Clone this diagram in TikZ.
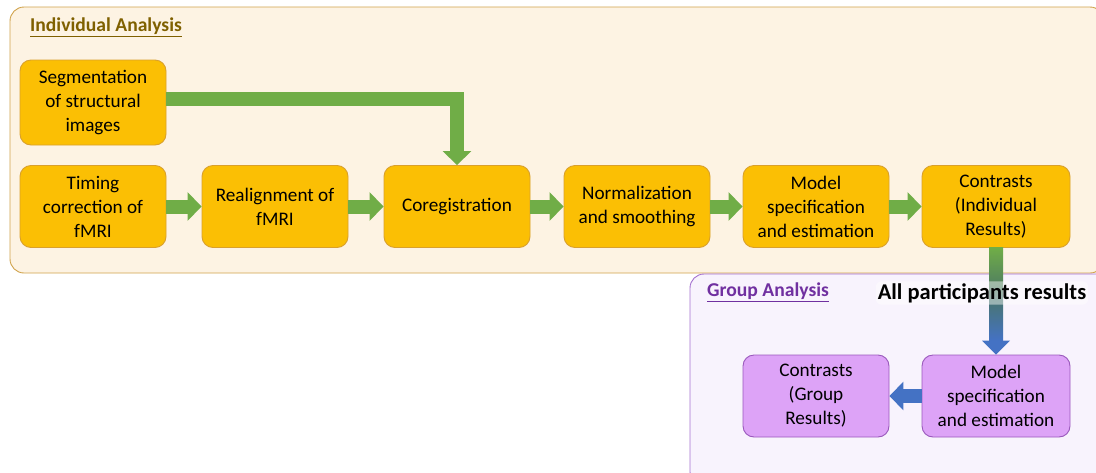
\documentclass[tikz,border=0pt]{standalone}
\usepackage{fontspec}
\setmainfont{Carlito}
\usetikzlibrary{arrows.meta,calc,positioning}
\definecolor{indfill}{HTML}{FDF3E3}
\definecolor{indline}{HTML}{D0A24A}
\definecolor{grpfill}{HTML}{F8F3FD}
\definecolor{grpline}{HTML}{A470D0}
\definecolor{boxfill}{HTML}{FBBF04}
\definecolor{boxline}{HTML}{D9A02C}
\definecolor{pboxfill}{HTML}{DDA3F7}
\definecolor{pboxline}{HTML}{9A58BC}
\definecolor{agreen}{HTML}{70AD47}
\definecolor{ablue}{HTML}{4472C4}
\definecolor{indtitle}{HTML}{7F6000}
\definecolor{grptitle}{HTML}{7030A0}
\tikzset{
  panel/.style={rounded corners=14pt, line width=0.9pt},
  stepbox/.style={draw=boxline, fill=boxfill, line width=0.9pt, rounded corners=11pt,
    minimum width=146pt, minimum height=82pt, align=center, inner sep=2pt,
    font=\fontsize{19.2}{24}\selectfont},
  gbox/.style={stepbox, draw=pboxline, fill=pboxfill},
  flow/.style={line width=14pt, -{Triangle[width=28pt,length=14pt]}},
  title/.style={font=\fontsize{19.6}{22}\selectfont\bfseries, anchor=west, inner sep=0pt}
}
\begin{document}
\begin{tikzpicture}[x=1pt,y=-1pt]
\useasboundingbox (0,0) rectangle (1096,472);
\clip (0,0) rectangle (1096,472);
% panels
\draw[panel, draw=indline, fill=indfill] (10,7) rectangle (1104,273);
\draw[panel, draw=grpline, fill=grpfill] (690,274) rectangle (1110,486);
\node[title, text=indtitle] (indt) at (30,27) {\underline{Individual Analysis}};
\node[title, text=grptitle] (grpt) at (707,292) {\underline{Group Analysis}};
% boxes
\node[stepbox, minimum height=85pt] (seg) at (93,102.5) {Segmentation\\of structural\\images};
\node[stepbox] (tim) at (93,206.5) {Timing\\correction of\\fMRI};
\node[stepbox] (rea) at (275,206.5) {Realignment of\\fMRI};
\node[stepbox] (cor) at (457,206.5) {Coregistration};
\node[stepbox] (nor) at (637,206.5) {Normalization\\and smoothing};
\node[stepbox] (mod) at (816,206.5) {Model\\specification\\and estimation};
\node[stepbox, minimum width=148pt] (con) at (996,206.5) {Contrasts\\(Individual\\Results)};
\node[gbox] (gcon) at (816,396) {Contrasts\\(Group\\Results)};
\node[gbox, minimum width=148pt] (gmod) at (996,396) {Model\\specification\\and estimation};
% arrows
\draw[flow, agreen] (tim) -- (rea);
\draw[flow, agreen] (rea) -- (cor);
\draw[flow, agreen] (cor) -- (nor);
\draw[flow, agreen] (nor) -- (mod);
\draw[flow, agreen] (mod) -- (con);
\coordinate (bend) at ($(cor.north)+(0,-66)$);
\draw[flow, agreen] (seg.east |- bend) -- (bend) -- (cor.north);
\draw[flow, ablue] (gmod) -- (gcon);
% gradient arrow down
\shade[top color=agreen, bottom color=ablue, middle color=agreen!55!ablue!80!black]
  ($(con.south)+(-7,0)$) rectangle ($(gmod.north)+(7,-14)$);
\fill[ablue] ($(gmod.north)+(-14,-14)$) -- ($(gmod.north)+(14,-14)$) -- (gmod.north) -- cycle;
% label with soft glow
\node[font=\fontsize{22.5}{26}\selectfont\bfseries, text=black, fill=white, fill opacity=0.45,
  text opacity=1, rounded corners=6pt, inner sep=2pt] (allp) at (982,293) {All participants results};
\end{tikzpicture}
\end{document}
